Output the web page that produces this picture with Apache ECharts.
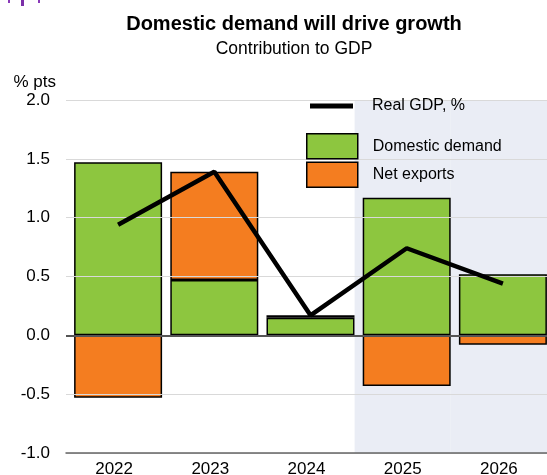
<!DOCTYPE html>
<html>
<head>
<meta charset="utf-8">
<script src="https://cdn.jsdelivr.net/npm/echarts@6/dist/echarts.min.js"></script>
<style>
  html, body { margin: 0; padding: 0; background: #fff; }
  #chart { width: 547px; height: 475px; }
</style>
</head>
<body>
<div id="chart"></div>
<script>
// values
let years     = ['2022', '2023', '2024', '2025', '2026'];
let domestic  = [1.47, 0.47, 0.15, 1.17, 0.52];
let netExport = [-0.53, 0.92, 0.02, -0.43, -0.08];
let realGdp   = [0.94, 1.39, 0.17, 0.74, 0.44];
// forecast years get the shaded background
let forecastTop    = [null, null, null, 2, 2];
let forecastBottom = [null, null, null, -1, -1];

let font  = 'Liberation Sans, Arial, sans-serif';
let green = '#8dc63f';
let orange = '#f47d20';

let chart = echarts.init(document.getElementById('chart'));

let option = {
    backgroundColor: '#fff',
    animation: false,
    textStyle: { fontFamily: font },
    title: {
        text: 'Domestic demand will drive growth',
        subtext: 'Contribution to GDP',
        left: 294,
        textAlign: 'center',
        top: 14,
        padding: 0,
        itemGap: 6,
        textStyle: { fontSize: 20, fontWeight: 'bold', color: '#000', fontFamily: font },
        subtextStyle: { fontSize: 17.5, color: '#000', fontFamily: font }
    },
    legend: [
        {
            data: ['Real GDP, %'],
            left: 310,
            top: 98,
            padding: 0,
            icon: 'rect',
            itemWidth: 43,
            itemHeight: 5,
            itemStyle: { color: '#000', borderWidth: 0 },
            textStyle: { fontSize: 16, color: '#000', padding: [0, 0, 0, 14], fontFamily: font }
        },
        {
            data: ['Domestic demand', 'Net exports'],
            orient: 'vertical',
            left: 306,
            top: 133,
            padding: 0,
            icon: 'rect',
            itemWidth: 51,
            itemHeight: 25,
            itemGap: 2,
            itemStyle: { borderColor: '#000', borderWidth: 1.5 },
            textStyle: { fontSize: 16, color: '#000', padding: [0, 0, 0, 10], fontFamily: font }
        }
    ],
    grid: [
        { left: 66, width: 481, top: 100, bottom: 22, outerBoundsMode: 'none' },
        // data grid, bars sit a few pixels right of the category centre
        { left: 70, width: 481, top: 100, bottom: 22, outerBoundsMode: 'none' }
    ],
    xAxis: [
        {
            type: 'category',
            gridIndex: 0,
            data: years,
            axisLine: { onZero: false, lineStyle: { color: '#666', width: 1.5 } },
            axisTick: { inside: true, length: 9, lineStyle: { color: '#666', width: 1 } },
            axisLabel: { fontSize: 17, color: '#000', margin: 8, fontFamily: font },
            z: 3
        },
        {
            type: 'category',
            gridIndex: 1,
            data: years,
            show: false
        }
    ],
    yAxis: [
        {
            type: 'value',
            gridIndex: 0,
            min: -1,
            max: 2,
            interval: 0.5,
            name: '% pts',
            nameLocation: 'end',
            nameGap: 9,
            nameTextStyle: { fontSize: 17, color: '#000', align: 'right', padding: [0, 10, 0, 0], fontFamily: font },
            axisLine: { show: false },
            axisTick: { show: false },
            axisLabel: {
                fontSize: 17, color: '#000', margin: 16, fontFamily: font,
                formatter: function (v) { return v.toFixed(1); }
            },
            splitLine: { lineStyle: { color: '#d9d9d9', width: 1 } },
            z: 3
        },
        {
            type: 'value',
            gridIndex: 1,
            min: -1,
            max: 2,
            interval: 0.5,
            show: false,
            splitLine: { show: false }
        }
    ],
    series: [
        {
            name: 'forecast',
            type: 'bar',
            xAxisIndex: 0,
            yAxisIndex: 0,
            stack: 'shade',
            data: forecastTop,
            barWidth: '100%',
            silent: true,
            itemStyle: { color: '#eaedf5' },
            z: 0
        },
        {
            name: 'forecast2',
            type: 'bar',
            xAxisIndex: 0,
            yAxisIndex: 0,
            stack: 'shade',
            data: forecastBottom,
            barWidth: '100%',
            silent: true,
            itemStyle: { color: '#eaedf5' },
            z: 0
        },
        {
            name: 'Domestic demand',
            type: 'bar',
            xAxisIndex: 1,
            yAxisIndex: 1,
            stack: 'total',
            data: domestic,
            barWidth: 88,
            itemStyle: { color: green, borderColor: '#000', borderWidth: 1.5 },
            z: 2
        },
        {
            name: 'Net exports',
            type: 'bar',
            xAxisIndex: 1,
            yAxisIndex: 1,
            stack: 'total',
            data: netExport,
            barWidth: 88,
            itemStyle: { color: orange, borderColor: '#000', borderWidth: 1.5 },
            z: 2
        },
        {
            // carries the zero line across the full plot
            name: 'zero',
            type: 'line',
            xAxisIndex: 0,
            yAxisIndex: 0,
            data: [],
            silent: true,
            markLine: {
                silent: true,
                symbol: 'none',
                label: { show: false },
                lineStyle: { color: '#555', width: 2, type: 'solid' },
                data: [{ yAxis: 0 }]
            },
            z: 4
        },
        {
            name: 'Real GDP, %',
            type: 'line',
            xAxisIndex: 1,
            yAxisIndex: 1,
            data: realGdp,
            symbol: 'none',
            lineStyle: { color: '#000', width: 4.5 },
            itemStyle: { color: '#000' },
            z: 5
        }
    ],
    graphic: [
        // clipped logo fragment at top left
        { type: 'rect', left: 8, top: 0, shape: { width: 2, height: 3 }, style: { fill: '#8a3ab9' } },
        { type: 'rect', left: 21, top: 0, shape: { width: 3, height: 6 }, style: { fill: '#7b2fa8' } },
        { type: 'rect', left: 38, top: 0, shape: { width: 2, height: 3 }, style: { fill: '#8a3ab9' } }
    ]
};

chart.setOption(option);
</script>
</body>
</html>
